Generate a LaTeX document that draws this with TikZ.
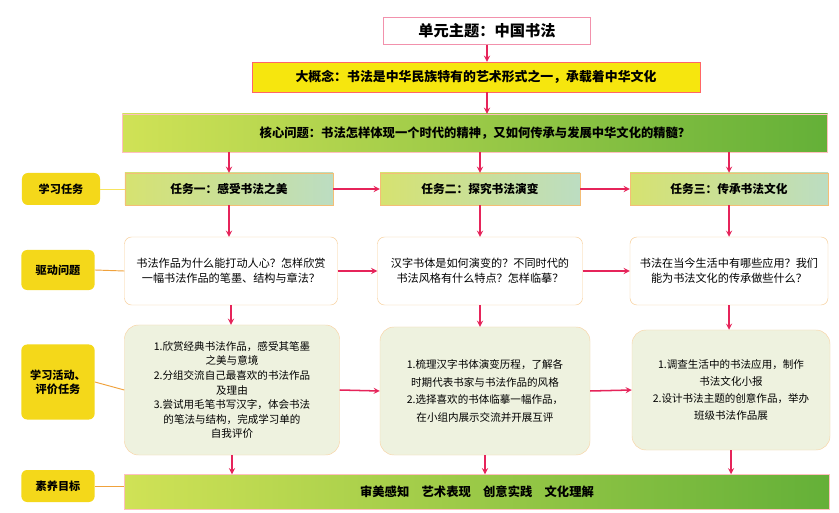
\documentclass[tikz,border=0pt]{standalone}
\usepackage{fontspec}
\setmainfont{Noto Sans CJK SC}
\usepackage{tikz}
\usetikzlibrary{shapes.geometric, arrows}
\definecolor{arrowred}{HTML}{E6245A}
\definecolor{labyellow}{HTML}{F4D81A}
\definecolor{ideayellow}{HTML}{F6E60E}
\definecolor{barlime}{HTML}{D0E256}
\definecolor{bargreen}{HTML}{64B038}
\definecolor{tasklime}{HTML}{D6E270}
\definecolor{taskteal}{HTML}{BCDDC2}
\definecolor{linkorange}{HTML}{F0A23C}
\definecolor{actfill}{HTML}{EEF2DF}
\tikzstyle{arrow} = [line width=1.3pt,->,>=stealth,draw=arrowred]
\tikzstyle{link} = [thick,draw=linkorange]
\tikzstyle{lab} = [fill=labyellow, rounded corners=5pt, minimum width=2.2cm, align=center, font=\fontsize{9.5}{12}\selectfont\bfseries]
\tikzstyle{bar} = [left color=barlime, right color=bargreen, draw=red!25, minimum width=21.15cm, font=\fontsize{10.5}{12}\selectfont\bfseries]
\tikzstyle{taskbox} = [left color=tasklime, right color=taskteal, draw=linkorange!70, minimum height=0.96cm, font=\fontsize{10}{12}\selectfont\bfseries]
\tikzstyle{qbox} = [fill=white, draw=linkorange!55, rounded corners=6pt, minimum height=2.04cm, align=center, font=\fontsize{9.5}{13}\selectfont]
\tikzstyle{actbox} = [fill=actfill, draw=linkorange!45, rounded corners=12pt, align=center, font=\fontsize{9}{12.5}\selectfont]

\begin{document}
\begin{tikzpicture}[x=0.03cm, y=-0.03cm]
	\useasboundingbox[fill=white] (0,0) rectangle (839,513);
	% top part
	\node[draw=arrowred!50, fill=white, minimum width=6.2cm, minimum height=0.81cm, font=\fontsize{13}{14}\selectfont\bfseries] (title) at (487,31) {单元主题：中国书法};
	\node[fill=ideayellow, draw=red!60, minimum width=13.44cm, minimum height=0.9cm, font=\fontsize{11}{12}\selectfont\bfseries] (bigidea) at (476,77) {大概念：书法是中华民族特有的艺术形式之一，承载着中华文化};
	\node[bar, minimum height=1.14cm] (corequest) at (475,133) {核心问题：书法怎样体现一个时代的精神，又如何传承与发展中华文化的精髓？};
	\draw[arrow] (title.south) -- (title.south |- bigidea.north);
	\draw[arrow] (bigidea.south -| title.south) -- (title.south |- corequest.north);

	% row labels
	\node[lab, minimum width=2.34cm, minimum height=0.96cm] (lab1) at (61,189) {学习任务};
	\node[lab, minimum height=1.2cm] (lab2) at (58,270) {驱动问题};
	\node[lab, minimum height=2.25cm] (lab3) at (58,382) {学习活动、\\评价任务};
	\node[lab, minimum height=0.96cm] (lab4) at (58,486) {素养目标};

	% tasks
	\node[taskbox, minimum width=6.24cm] (task1) at (229,189) {任务一：感受书法之美};
	\node[taskbox, minimum width=6.0cm] (task2) at (480,189) {任务二：探究书法演变};
	\node[taskbox, minimum width=5.94cm] (task3) at (729,189) {任务三：传承书法文化};

	% questions
	\node[qbox, minimum width=6.39cm] (q1) at (231,271) {书法作品为什么能打动人心？怎样欣赏\\一幅书法作品的笔墨、结构与章法？};
	\node[qbox, minimum width=6.15cm] (q2) at (480,271) {汉字书体是如何演变的？不同时代的\\书法风格有什么特点？怎样临摹？};
	\node[qbox, minimum width=5.94cm] (q3) at (729,271) {书法在当今生活中有哪些应用？我们\\能为书法文化的传承做些什么？};

	% activities
	\node[actbox, minimum width=6.45cm, minimum height=3.9cm] (act1) at (232,390) {1.欣赏经典书法作品，感受其笔墨\\之美与意境\\2.分组交流自己最喜欢的书法作品\\及理由\\3.尝试用毛笔书写汉字，体会书法\\的笔法与结构，完成学习单的\\自我评价};
	\node[actbox, minimum width=6.3cm, minimum height=3.84cm, font=\fontsize{9}{15}\selectfont] (act2) at (485,391) {1.梳理汉字书体演变历程，了解各\\时期代表书家与书法作品的风格\\2.选择喜欢的书体临摹一幅作品，\\在小组内展示交流并开展互评};
	\node[actbox, minimum width=5.94cm, minimum height=3.6cm, font=\fontsize{9}{14.5}\selectfont] (act3) at (731,390) {1.调查生活中的书法应用，制作\\书法文化小报\\2.设计书法主题的创意作品，举办\\班级书法作品展};

	% literacy
	\node[bar, minimum height=1.05cm] (lit) at (477,492) {审美感知\quad 艺术表现\quad 创意实践\quad 文化理解};

	% label links
	\draw[link, draw=labyellow!70] (lab1.east) -- (task1.west);
	\draw[link] (lab2.east) -- (q1.west);
	\draw[link] (lab3.east) -- (act1.west);
	\draw[link] (lab4.east) -- (lit.west |- lab4.east);

	% arrows down
	\foreach \a/\b/\c in {task1/q1/act1, task2/q2/act2, task3/q3/act3} {
		\draw[arrow] (corequest.south -| \a.north) -- (\a.north);
		\draw[arrow] (\a.south) -- (\a.south |- \b.north);
		\draw[arrow] (\b.south) -- (\b.south |- \c.north);
		\draw[arrow] (\c.south) -- (\c.south |- lit.north);
	}
	% arrows across
	\draw[arrow] (task1.east) -- (task2.west);
	\draw[arrow] (task2.east) -- (task3.west);
	\draw[arrow] (q1.east) -- (q2.west);
	\draw[arrow] (q2.east) -- (q3.west);
	\draw[arrow] (act1.east) -- (act2.west);
	\draw[arrow] (act2.east) -- (act3.west);
\end{tikzpicture}
\end{document}
